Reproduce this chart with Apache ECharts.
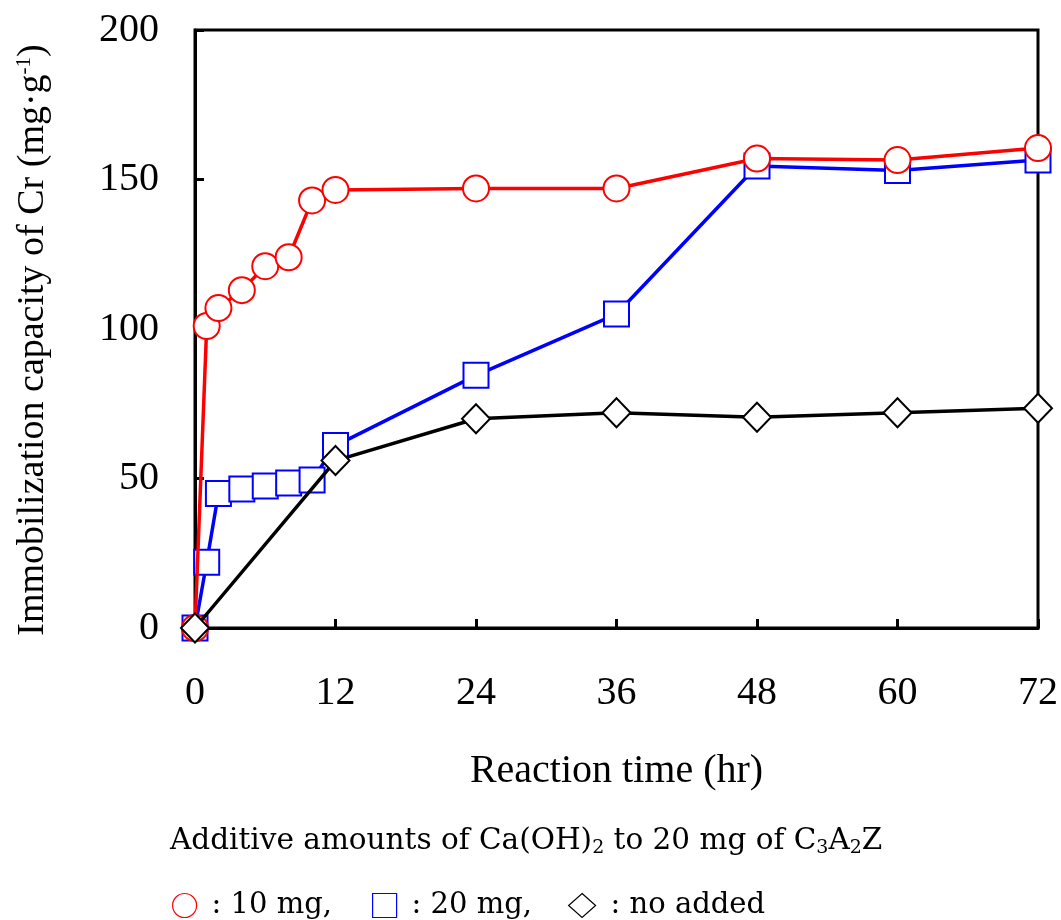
<!DOCTYPE html>
<html>
<head>
<meta charset="utf-8">
<script src="https://cdn.jsdelivr.net/npm/echarts@6/dist/echarts.min.js"></script>
<style>html,body{margin:0;padding:0;background:#fff;}#c{width:1061px;height:920px;}</style>
</head>
<body>
<div id="c"></div>
<script>
// Data (time in hr, immobilization capacity in mg/g)
var timeRed   = [0, 1, 2, 4, 6, 8, 10, 12, 24, 36, 48, 60, 72];
var valRed    = [0, 101, 107, 113, 121, 124, 143, 146.5, 147, 147, 157, 156.5, 160.5];
var timeBlue  = [0, 1, 2, 4, 6, 8, 10, 12, 24, 36, 48, 60, 72];
var valBlue   = [0, 22, 45, 46.5, 47.5, 48.5, 49.5, 61, 84.5, 105, 154.5, 153, 156.5];
var timeBlack = [0, 12, 24, 36, 48, 60, 72];
var valBlack  = [0, 56, 70, 72, 70.5, 72, 73.5];
var seriesNames = ['10 mg', '20 mg', 'no added'];
var legendLabels = [': 10 mg,', ': 20 mg,', ': no added'];
var xTicks = [0, 12, 24, 36, 48, 60, 72];
var yTicks = [0, 50, 100, 150, 200];

function pairs(xs, ys){ return xs.map(function(x,i){ return [x, ys[i]]; }); }

var serif = '"Liberation Serif", "Times New Roman", serif';
var wideSerif = '"DejaVu Serif", serif';
var colors = ['#ff0000', '#0000ff', '#000000'];
var icons = ['circle', 'rect', 'diamond'];
var legendLeft = [172, 372, 568];

var legends = seriesNames.map(function(n, i){
  return {
    left: legendLeft[i], top: 891, padding: 0, itemWidth: (i === 2 ? 27 : 24), itemHeight: 24,
    textStyle: { fontFamily: wideSerif, fontSize: 29, color: '#000', padding: [0,0,0,10] },
    formatter: function(){ return legendLabels[i]; },
    selectedMode: false,
    data: [{ name: n, icon: icons[i], itemStyle: { color: '#fff', borderColor: colors[i], borderWidth: 1.2 } }]
  };
});

var chart = echarts.init(document.getElementById('c'), null, {renderer:'canvas'});
var option = {
  backgroundColor: '#fff',
  animation: false,
  grid: { left: 195, right: 22, top: 30, bottom: 292, show: true, borderColor: '#000', borderWidth: 3, backgroundColor: 'transparent' },
  xAxis: {
    type: 'value', min: xTicks[0], max: xTicks[xTicks.length-1], interval: 12,
    name: 'Reaction time (hr)', nameLocation: 'middle', nameGap: 123,
    nameTextStyle: { fontFamily: serif, fontSize: 40, color: '#000' },
    axisLine: { show: true, lineStyle: { color: '#000', width: 3 } },
    axisTick: { show: true, inside: true, length: 9, lineStyle: { color: '#000', width: 3 } },
    axisLabel: { fontFamily: serif, fontSize: 40, color: '#000', margin: 45 },
    splitLine: { show: false }
  },
  yAxis: {
    type: 'value', min: yTicks[0], max: yTicks[yTicks.length-1], interval: 50,
    name: 'Immobilization capacity of Cr (mg·g{sup|-1})', nameLocation: 'middle', nameGap: 143,
    nameTextStyle: { fontFamily: serif, fontSize: 38, color: '#000', padding: [0,22,0,0],
      rich: { sup: { fontFamily: serif, fontSize: 21, color: '#000', verticalAlign: 'top', lineHeight: 21 } } },
    axisLine: { show: true, lineStyle: { color: '#000', width: 3 } },
    axisTick: { show: true, inside: true, length: 9, lineStyle: { color: '#000', width: 3 } },
    axisLabel: { fontFamily: serif, fontSize: 40, color: '#000', margin: 36 },
    splitLine: { show: false }
  },
  legend: legends,
  graphic: [{
    type: 'text', left: 170, top: 826,
    style: {
      text: 'Additive amounts of Ca(OH){sub|2} to 20 mg of C{sub|3}A{sub|2}Z',
      font: '29.5px ' + wideSerif, fill: '#000',
      rich: { sub: { fontFamily: wideSerif, fontSize: 19, fill: '#000', verticalAlign: 'bottom', padding: [14,0,0,0] } }
    }
  }],
  series: [
    { name: seriesNames[1], type: 'line', data: pairs(timeBlue, valBlue), symbol: 'rect', symbolSize: 25,
      lineStyle: { color: colors[1], width: 3.5 }, itemStyle: { color: '#fff', borderColor: colors[1], borderWidth: 2 }, z: 2 },
    { name: seriesNames[0], type: 'line', data: pairs(timeRed, valRed), symbol: 'circle', symbolSize: 26,
      lineStyle: { color: colors[0], width: 3.5 }, itemStyle: { color: '#fff', borderColor: colors[0], borderWidth: 2 }, z: 3 },
    { name: seriesNames[2], type: 'line', data: pairs(timeBlack, valBlack), symbol: 'diamond', symbolSize: [28, 29],
      lineStyle: { color: colors[2], width: 3.5 }, itemStyle: { color: '#fff', borderColor: colors[2], borderWidth: 2 }, z: 4 }
  ]
};
chart.setOption(option);
</script>
</body>
</html>
